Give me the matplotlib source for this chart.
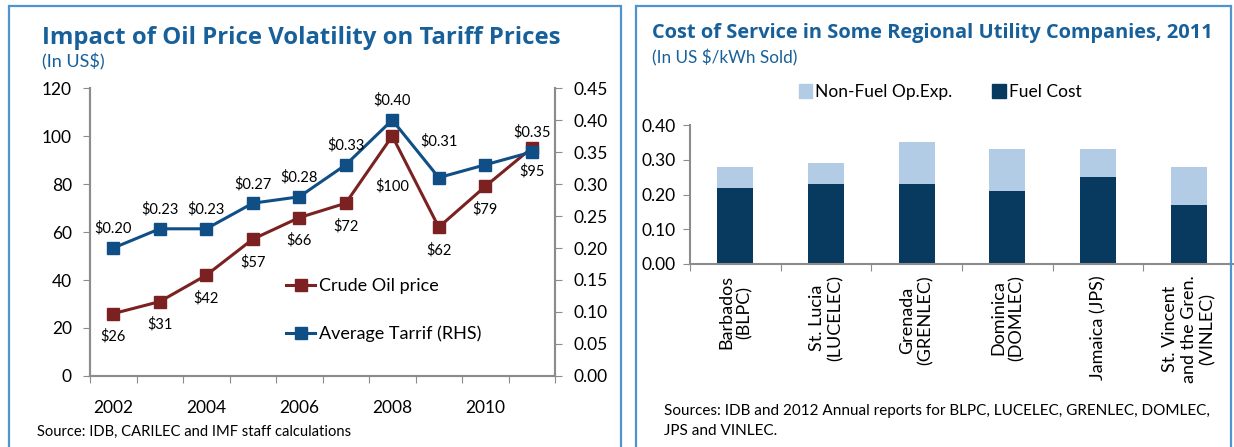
import matplotlib.pyplot as plt
from matplotlib.lines import Line2D
from matplotlib.patches import Rectangle

W, H = 1234, 447

# data - left chart
years = [2002, 2003, 2004, 2005, 2006, 2007, 2008, 2009, 2010, 2011]
crude_oil = [26, 31, 42, 57, 66, 72, 100, 62, 79, 95]
tariff = [0.20, 0.23, 0.23, 0.27, 0.28, 0.33, 0.40, 0.31, 0.33, 0.35]
tariff_labels = ["$0.20", "$0.23", "$0.23", "$0.27", "$0.28", "$0.33", "$0.40", "$0.31", "", "$0.35"]
crude_labels = ["$26", "$31", "$42", "$57", "$66", "$72", "$100", "$62", "$79", "$95"]

# data - right chart
companies = ["Barbados\n(BLPC)", "St. Lucia\n(LUCELEC)", "Grenada\n(GRENLEC)",
             "Dominica\n(DOMLEC)", "Jamaica (JPS)", "St. Vincent\nand the Gren.\n(VINLEC)"]
fuel_cost = [0.22, 0.23, 0.23, 0.21, 0.25, 0.17]
non_fuel = [0.06, 0.06, 0.12, 0.12, 0.08, 0.11]

plt.rcParams['font.family'] = ['Lato', 'DejaVu Sans']

title_col = "#17609A"
crude_col = "#7B2121"
tariff_col = "#0F4F86"
dark_bar = "#073A5E"
light_bar = "#B1CCE4"
spine_col = "#8C8C8C"


def box(l, t, r, b):
    return [l / W, 1 - b / H, (r - l) / W, (b - t) / H]


fig = plt.figure(figsize=(W / 100, H / 100), dpi=100)

# panel borders
fig.patches.append(Rectangle((9 / W, -0.05), 612 / W, 1 - 6 / H + 0.05, transform=fig.transFigure,
                             fill=False, edgecolor="#4F94CF", linewidth=1.6))
fig.patches.append(Rectangle((636 / W, -0.05), 595 / W, 1 - 6 / H + 0.05, transform=fig.transFigure,
                             fill=False, edgecolor="#4F94CF", linewidth=1.6))

# ---------- left chart ----------
ax = fig.add_axes(box(90, 88, 555, 376))
ax2 = ax.twinx()

x = list(range(len(years)))
ax.plot(x, crude_oil, color=crude_col, lw=2.2, marker="s", ms=8, label="Crude Oil price")
ax2.plot(x, tariff, color=tariff_col, lw=2.2, marker="s", ms=8, label="Average Tarrif (RHS)")

ax.set_ylim(0, 120)
ax.set_yticks(range(0, 121, 20))
ax2.set_ylim(0, 0.45)
ax2.set_yticks([i * 0.05 for i in range(10)])
ax2.set_yticklabels([f"{i * 0.05:.2f}" for i in range(10)])
ax.set_xlim(-0.5, len(years) - 0.5)
ax.set_xticks([i - 0.5 for i in range(len(years) + 1)], minor=False)
ax.set_xticklabels([""] * (len(years) + 1))
ax.set_xticks(x[::2], minor=True)
ax.set_xticklabels([str(y) for y in years[::2]], minor=True)
ax.tick_params(axis="x", which="minor", length=0, pad=17, labelsize=12.5)
ax.tick_params(axis="x", which="major", length=5, color=spine_col)
ax.tick_params(axis="y", length=5, color=spine_col, labelsize=12.5, pad=8)
ax2.tick_params(axis="y", length=5, color=spine_col, labelsize=12.5, pad=8)

for a in (ax, ax2):
    a.spines["top"].set_visible(False)
    for s in ("left", "right", "bottom"):
        a.spines[s].set_color(spine_col)
        a.spines[s].set_linewidth(1.5)

# label offsets in points (most above / below, a couple pushed further away)
for i, lab in enumerate(tariff_labels):
    if not lab:
        continue
    dy = 26 if i == 7 else 14
    ax2.annotate(lab, (x[i], tariff[i]), xytext=(0, dy), textcoords="offset points",
                 ha="center", va="center", fontsize=10.5)
for i, lab in enumerate(crude_labels):
    dy = -36 if i == 6 else -16.5
    ax.annotate(lab, (x[i], crude_oil[i]), xytext=(0, dy), textcoords="offset points",
                ha="center", va="center", fontsize=10.5)

handles = [Line2D([], [], color=crude_col, lw=2.2, marker="s", ms=8),
           Line2D([], [], color=tariff_col, lw=2.2, marker="s", ms=8)]
ax2.legend(handles, ["Crude Oil price", "Average Tarrif (RHS)"], loc="upper left",
           bbox_to_anchor=((270 - 90) / 465, (376 - 262) / 288), frameon=False,
           fontsize=13, handlelength=1.6, handletextpad=0.2, labelspacing=1.75)

fig.text(42 / W, 1 - 38 / H, "Impact of Oil Price Volatility on Tariff Prices", color=title_col,
         fontsize=17.2, fontweight="bold", va="center", family=["Open Sans", "DejaVu Sans"])
fig.text(42 / W, 1 - 62 / H, "(In US$)", color=title_col, fontsize=13, va="center")
fig.text(37 / W, 1 - 432 / H, "Source: IDB, CARILEC and IMF staff calculations", fontsize=10.6,
         va="center")

# ---------- right chart ----------
bx = fig.add_axes(box(690, 125, 1234, 264))
pos = list(range(len(companies)))
bx.bar(pos, fuel_cost, width=0.4, color=dark_bar, label="Fuel Cost")
bx.bar(pos, non_fuel, width=0.4, bottom=fuel_cost, color=light_bar, label="Non-Fuel Op.Exp.")
bx.set_ylim(0, 0.4)
bx.set_yticks([0, 0.1, 0.2, 0.3, 0.4])
bx.set_yticklabels(["0.00", "0.10", "0.20", "0.30", "0.40"])
bx.set_xlim(-0.5, 5.41)
bx.set_xticks([i - 0.5 for i in range(len(companies) + 1)])
bx.set_xticklabels([""] * (len(companies) + 1))
bx.set_xticks(pos, minor=True)
bx.set_xticklabels(companies, minor=True, rotation=90, va="top", ha="center",
                   multialignment="center")
bx.tick_params(axis="x", which="minor", length=0, pad=8, labelsize=13)
bx.tick_params(axis="x", which="major", length=5, color=spine_col)
bx.tick_params(axis="y", length=5, color=spine_col, labelsize=12.5, pad=5)
for s in ("top", "right"):
    bx.spines[s].set_visible(False)
for s in ("left", "bottom"):
    bx.spines[s].set_color(spine_col)
    bx.spines[s].set_linewidth(1.5)

lh = [Rectangle((0, 0), 1, 1, color=light_bar), Rectangle((0, 0), 1, 1, color=dark_bar)]
fig.legend(lh, ["Non-Fuel Op.Exp.", "Fuel Cost"], loc="center",
           bbox_to_anchor=(940 / W, 1 - 92 / H), ncol=2, frameon=False, fontsize=12.5,
           handlelength=0.8, handleheight=0.8, handletextpad=0.15, columnspacing=2.3)

fig.text(652 / W, 1 - 33 / H, "Cost of Service in Some Regional Utility Companies, 2011",
         color=title_col, fontsize=14.4, fontweight="bold", va="center",
         family=["Open Sans", "DejaVu Sans"])
fig.text(652 / W, 1 - 58 / H, "(In US $/kWh Sold)", color=title_col, fontsize=12.3, va="center")
fig.text(664 / W, 1 - 421 / H,
         "Sources: IDB and 2012 Annual reports for BLPC, LUCELEC, GRENLEC, DOMLEC,\nJPS and VINLEC.",
         fontsize=11, va="center", linespacing=1.5)

fig.savefig("out.png", dpi=100)
